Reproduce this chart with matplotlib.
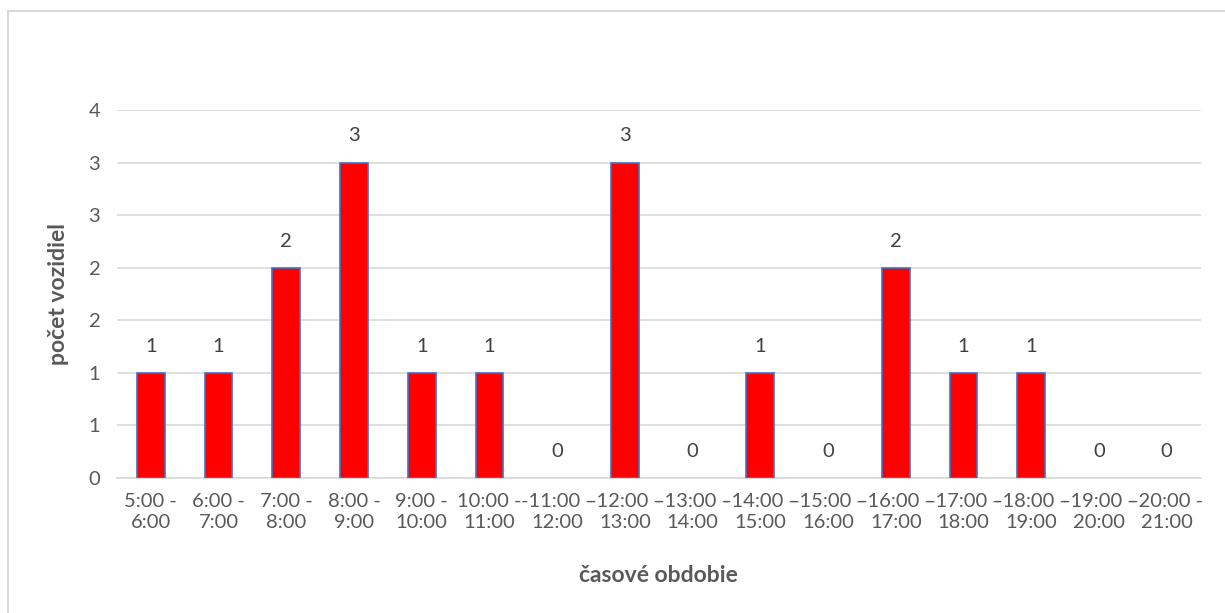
import matplotlib
matplotlib.use("Agg")
import matplotlib.pyplot as plt
from matplotlib.patches import Rectangle
from matplotlib.ticker import FuncFormatter, MultipleLocator

categories = ["5:00 -\n6:00", "6:00 -\n7:00", "7:00 -\n8:00", "8:00 -\n9:00",
              "9:00 -\n10:00", "10:00 -\n11:00", "-11:00 -\n12:00", "-12:00 -\n13:00",
              "-13:00 -\n14:00", "-14:00 -\n15:00", "-15:00 -\n16:00", "-16:00 -\n17:00",
              "-17:00 -\n18:00", "-18:00 -\n19:00", "-19:00 -\n20:00", "-20:00 -\n21:00"]
values = [1, 1, 2, 3, 1, 1, 0, 3, 0, 1, 0, 2, 1, 1, 0, 0]

plt.rcParams['font.family'] = ['Lato', 'DejaVu Sans']
text_col = '#595959'
fs = 14.5

fig = plt.figure(figsize=(12.25, 6.13), dpi=100)
ax = fig.add_axes([0.0955, 0.2202, 0.8845, 0.6004])

x = list(range(len(values)))
edges = ['#4472C4' if v > 0 else 'none' for v in values]
ax.bar(x, values, width=0.41, color='#FF0000', edgecolor=edges, linewidth=1.2, zorder=3)

for xi, v in zip(x, values):
    ax.annotate(f"{v}", (xi, v), xytext=(0, 13), textcoords='offset points',
                ha='center', va='bottom', fontsize=fs, color='#404040')

ax.set_xlim(-0.5, len(values) - 0.5)
ax.set_ylim(0, 3.5)
ax.yaxis.set_major_locator(MultipleLocator(0.5))
ax.yaxis.set_major_formatter(FuncFormatter(lambda v, p: f"{int(v + 0.5)}"))
ax.grid(axis='y', color='#D9D9D9', linewidth=1.2, zorder=0)
ax.set_axisbelow(True)
for s in ['top', 'right', 'left']:
    ax.spines[s].set_visible(False)
ax.spines['bottom'].set_color('#D9D9D9')
ax.spines['bottom'].set_linewidth(1.2)

ax.set_xticks(x)
ax.set_xticklabels(categories, fontsize=fs, color=text_col, linespacing=1.3)
ax.tick_params(axis='both', length=0, labelsize=fs, colors=text_col)
ax.tick_params(axis='x', pad=11)
ax.tick_params(axis='y', pad=12)

ax.set_xlabel("časové obdobie", fontsize=16.5, fontweight='bold', color=text_col, labelpad=24)
ax.set_ylabel("počet vozidiel", fontsize=16.5, fontweight='bold', color=text_col, labelpad=14)

fig.patches.append(Rectangle((8 / 1225, -0.05), 1.2, 1.05 - 11 / 613, transform=fig.transFigure,
                             fill=False, edgecolor='#D9D9D9', linewidth=1.5))

fig.savefig("out.png", dpi=100)
